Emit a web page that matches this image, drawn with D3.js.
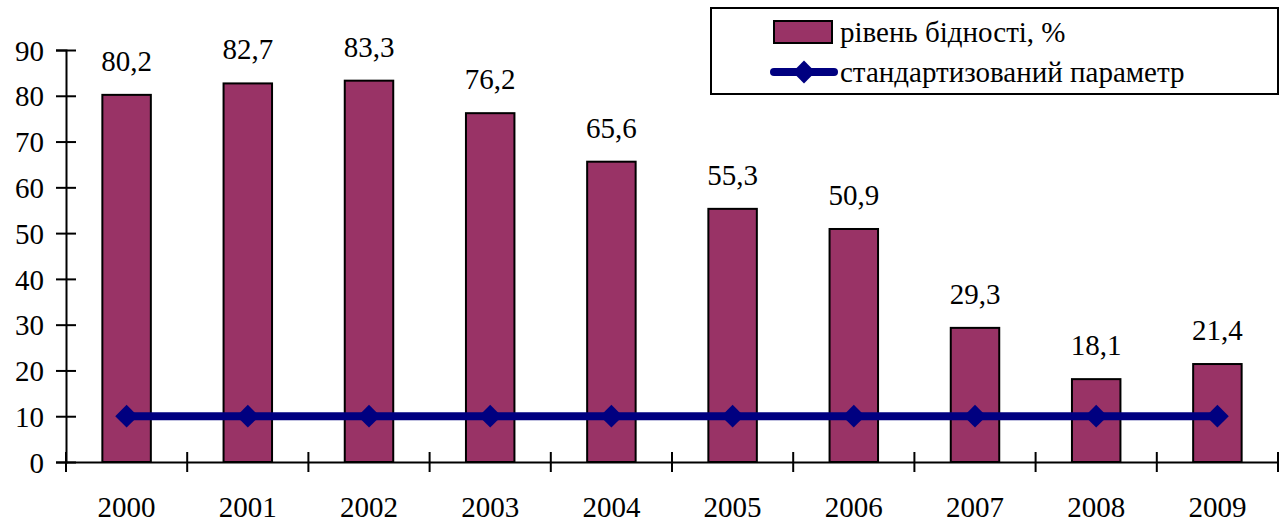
<!DOCTYPE html>
<html>
<head>
<meta charset="utf-8">
<script src="https://cdn.jsdelivr.net/npm/d3@7"></script>
</head>
<body style="margin:0;background:#fff">
<svg width="1288" height="524"></svg>
<script>
const years = ['2000', '2001', '2002', '2003', '2004', '2005', '2006', '2007', '2008', '2009']
const povertyRate = [80.2, 82.7, 83.3, 76.2, 65.6, 55.3, 50.9, 29.3, 18.1, 21.4]
const standardParam = [10, 10, 10, 10, 10, 10, 10, 10, 10, 10]
const yTicks = [0, 10, 20, 30, 40, 50, 60, 70, 80, 90]
const seriesNames = ['рівень бідності, %', 'стандартизований параметр']

const plotLeft = 66
const plotRight = 1278
const plotTop = 50
const plotBottom = 462
const barColor = '#993366'
const lineColor = '#000080'
const labelFont = '"Liberation Serif", "Times New Roman", Tinos, serif'

const svg = d3.select('svg')
  .style('font-family', labelFont)
  .style('font-size', '29px')

const xScale = d3.scaleBand()
  .domain(years)
  .range([plotLeft, plotRight])
  .padding(0)

const yScale = d3.scaleLinear()
  .domain([0, 90])
  .range([plotBottom, plotTop])

const barWidth = xScale.bandwidth() * 0.4

// bars
svg.selectAll('rect.bar')
  .data(povertyRate)
  .enter()
  .append('rect')
  .attr('class', 'bar')
  .attr('x', (d, i) => xScale(years[i]) + (xScale.bandwidth() - barWidth) / 2)
  .attr('y', d => yScale(d))
  .attr('width', barWidth)
  .attr('height', d => yScale(0) - yScale(d))
  .style('fill', barColor)
  .style('stroke', '#000')
  .style('stroke-width', 2)

// value labels
svg.selectAll('text.value')
  .data(povertyRate)
  .enter()
  .append('text')
  .attr('class', 'value')
  .style('font-family', labelFont)
  .attr('text-anchor', 'middle')
  .attr('x', (d, i) => xScale(years[i]) + xScale.bandwidth() / 2)
  .attr('y', d => yScale(d) - 24)
  .text(d => String(d).replace('.', ','))

// y axis
const yAxis = svg.append('g')
  .attr('transform', `translate(${plotLeft},0)`)
  .call(d3.axisLeft(yScale).tickValues(yTicks).tickSize(10).tickPadding(0))
yAxis.attr('font-family', null).attr('font-size', null)
yAxis.select('.domain').attr('stroke', '#000').attr('stroke-width', 2)
yAxis.selectAll('.tick line').attr('x1', 10).attr('x2', -10).attr('stroke-width', 2)
yAxis.selectAll('.tick text')
  .style('font-family', labelFont)
  .attr('x', -22)
  .attr('dy', '0.35em')
  .attr('fill', '#000')

// x axis
const xAxis = svg.append('g')
  .attr('transform', `translate(0,${plotBottom})`)
  .call(d3.axisBottom(xScale).tickSize(0).tickPadding(0))
xAxis.attr('font-family', null).attr('font-size', null)
xAxis.select('.domain').attr('stroke', '#000').attr('stroke-width', 2)
xAxis.selectAll('.tick text')
  .style('font-family', labelFont)
  .attr('y', 55)
  .attr('dy', 0)
  .attr('fill', '#000')

const boundaries = years.map(y => xScale(y)).concat([plotRight])
xAxis.selectAll('line.boundary')
  .data(boundaries)
  .enter()
  .append('line')
  .attr('class', 'boundary')
  .attr('x1', d => d)
  .attr('x2', d => d)
  .attr('y1', -10)
  .attr('y2', 10)
  .attr('stroke', '#000')
  .attr('stroke-width', 2)

// line series
const line = d3.line()
  .x((d, i) => xScale(years[i]) + xScale.bandwidth() / 2)
  .y(d => yScale(d))

svg.append('path')
  .datum(standardParam)
  .attr('d', line)
  .attr('fill', 'none')
  .attr('stroke', lineColor)
  .attr('stroke-width', 8)

const diamond = d3.symbol().type(d3.symbolDiamond2).size(330)
svg.selectAll('path.marker')
  .data(standardParam)
  .enter()
  .append('path')
  .attr('class', 'marker')
  .attr('d', diamond)
  .attr('transform', (d, i) => `translate(${xScale(years[i]) + xScale.bandwidth() / 2},${yScale(d)})`)
  .attr('fill', lineColor)

// legend
const legend = svg.append('g')
legend.append('rect')
  .attr('x', 711)
  .attr('y', 8)
  .attr('width', 567)
  .attr('height', 86)
  .attr('fill', '#fff')
  .attr('stroke', '#000')
  .attr('stroke-width', 2)

legend.append('rect')
  .attr('x', 774)
  .attr('y', 21)
  .attr('width', 58)
  .attr('height', 22)
  .style('fill', barColor)
  .style('stroke', '#000')
  .style('stroke-width', 2)

legend.append('line')
  .attr('x1', 774)
  .attr('x2', 834)
  .attr('y1', 72)
  .attr('y2', 72)
  .attr('stroke', lineColor)
  .attr('stroke-width', 8)
  .attr('stroke-linecap', 'round')

legend.append('path')
  .attr('d', diamond)
  .attr('transform', 'translate(804,72)')
  .attr('fill', lineColor)

legend.selectAll('text.legend')
  .data(seriesNames)
  .enter()
  .append('text')
  .attr('class', 'legend')
  .style('font-family', labelFont)
  .attr('x', 840)
  .attr('y', (d, i) => 42 + i * 40)
  .text(d => d)
</script>
</body>
</html>
